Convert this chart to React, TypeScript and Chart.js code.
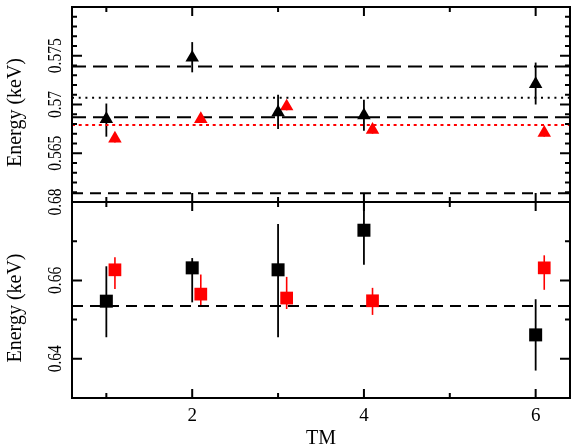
import React, { useEffect, useRef } from 'react';
import { Chart, registerables } from 'chart.js';

Chart.register(...registerables);

// ---------- data ----------
const tmBlack = [1, 2, 3, 4, 6];
const tmRed = [1.1, 2.1, 3.1, 4.1, 6.1];

// top panel (triangles)
const topBlack = [0.5685, 0.5748, 0.5692, 0.5689, 0.5721];
const topBlackLo = [0.5667, 0.5733, 0.5675, 0.5673, 0.57];
const topBlackHi = [0.5701, 0.5764, 0.571, 0.5705, 0.5743];
const topRed = [0.5665, 0.5685, 0.5698, 0.5674, 0.5671];
const topRedLo = [0.5661, 0.5681, 0.5694, 0.567, 0.5667];
const topRedHi = [0.5669, 0.5689, 0.5702, 0.5678, 0.5675];

const topDashedUpper = 0.5739;
const topDashedMiddle = 0.5687;
const topDashedLower = 0.5609;
const topBlackDotted = 0.5707;
const topRedDotted = 0.5679;

// bottom panel (squares)
const botBlack = [0.6547, 0.6632, 0.6627, 0.6728, 0.6461];
const botBlackLo = [0.6455, 0.6544, 0.6455, 0.664, 0.637];
const botBlackHi = [0.6636, 0.6657, 0.6744, 0.6816, 0.6552];
const botRed = [0.6627, 0.6565, 0.6555, 0.6548, 0.6632];
const botRedLo = [0.6578, 0.6535, 0.6527, 0.6512, 0.6576];
const botRedHi = [0.6659, 0.6615, 0.6609, 0.6581, 0.6664];
const botDashed = 0.6535;

// axes
const xRange = [0.6, 6.4];
const topRange = [0.56, 0.58];
const botRange = [0.63, 0.68];
const xMajorTicks = [2, 4, 6];
const xMinorTicks = [1, 3, 5];
const xTickLabels = ['2', '4', '6'];
const topMajorTicks = [0.565, 0.57, 0.575];
const topMinorTicks = [
  0.561, 0.562, 0.563, 0.564, 0.566, 0.567, 0.568, 0.569, 0.571, 0.572, 0.573, 0.574, 0.576,
  0.577, 0.578, 0.579,
];
const topTickLabels = ['0.565', '0.57', '0.575'];
const botMajorTicks = [0.64, 0.66];
const botMinorTicks = [0.65, 0.67];
const botLabelTicks = [0.64, 0.66, 0.68];
const botTickLabels = ['0.64', '0.66', '0.68'];
const yTitle = 'Energy (keV)';
const xTitle = 'TM';

const SERIF = '"Liberation Serif", "Times New Roman", serif';

type ErrSet = { x: number[]; lo: number[]; hi: number[]; color: string; width: number };

type Panel = {
  name: string;
  padTop: number;
  xHeight: number;
  yMin: number;
  yMax: number;
  yMajor: number[];
  yMinor: number[];
  yLabelVals: number[];
  yLabels: string[];
  showX: boolean;
  errors: ErrSet[];
  datasets: any[];
};

const hline = (y: number, color: string, dash: number[], order = 5) => ({
  type: 'line',
  data: [
    { x: xRange[0], y },
    { x: xRange[1], y },
  ],
  showLine: true,
  borderColor: color,
  borderWidth: 2,
  borderDash: dash,
  pointRadius: 0,
  order,
});

const markers = (xs: number[], ys: number[], color: string, style: string, radius: number) => ({
  type: 'scatter',
  data: xs.map((x, i) => ({ x, y: ys[i] })),
  pointStyle: style,
  pointRadius: radius,
  pointBackgroundColor: color,
  pointBorderWidth: 0,
  backgroundColor: color,
  borderWidth: 0,
  order: 0,
});

const panelPlugin = (p: Panel) => ({
  id: 'panel_' + p.name,
  beforeDatasetsDraw(chart: any) {
    const { ctx, chartArea: a, scales } = chart;
    const xs = scales.x;
    const ys = scales.y;
    ctx.save();
    ctx.beginPath();
    ctx.rect(a.left, a.top, a.right - a.left, a.bottom - a.top);
    ctx.clip();
    p.errors.forEach((e) => {
      ctx.strokeStyle = e.color;
      ctx.lineWidth = e.width;
      e.x.forEach((xv, i) => {
        const px = xs.getPixelForValue(xv);
        ctx.beginPath();
        ctx.moveTo(px, ys.getPixelForValue(e.lo[i]));
        ctx.lineTo(px, ys.getPixelForValue(e.hi[i]));
        ctx.stroke();
      });
    });
    ctx.restore();
  },
  afterDraw(chart: any) {
    const { ctx, chartArea: a, scales } = chart;
    const xs = scales.x;
    const ys = scales.y;
    ctx.save();
    ctx.strokeStyle = '#000';
    ctx.fillStyle = '#000';
    // frame
    ctx.lineWidth = 2;
    ctx.strokeRect(a.left, a.top, a.right - a.left, a.bottom - a.top);
    // x ticks
    ctx.lineWidth = 2;
    const xt = (vals: number[], len: number) =>
      vals.forEach((v) => {
        const px = xs.getPixelForValue(v);
        ctx.beginPath();
        ctx.moveTo(px, a.top);
        ctx.lineTo(px, a.top + len);
        ctx.moveTo(px, a.bottom);
        ctx.lineTo(px, a.bottom - len);
        ctx.stroke();
      });
    xt(xMajorTicks, 9);
    xt(xMinorTicks, 5);
    const yt = (vals: number[], len: number) =>
      vals.forEach((v) => {
        const py = ys.getPixelForValue(v);
        ctx.beginPath();
        ctx.moveTo(a.left, py);
        ctx.lineTo(a.left + len, py);
        ctx.moveTo(a.right, py);
        ctx.lineTo(a.right - len, py);
        ctx.stroke();
      });
    yt(p.yMajor, 10);
    yt(p.yMinor, 5);
    // y tick labels (rotated)
    ctx.textAlign = 'center';
    ctx.textBaseline = 'alphabetic';
    p.yLabelVals.forEach((v, i) => {
      const py = ys.getPixelForValue(v);
      ctx.save();
      ctx.translate(a.left - 11, py);
      ctx.rotate(-Math.PI / 2);
      ctx.scale(0.86, 1);
      ctx.font = `18px ${SERIF}`;
      ctx.fillText(p.yLabels[i], 0, 0);
      ctx.restore();
    });
    // y title
    ctx.save();
    ctx.translate(21, (a.top + a.bottom) / 2 + 8);
    ctx.rotate(-Math.PI / 2);
    ctx.font = `20px ${SERIF}`;
    ctx.fillText(yTitle, 0, 0);
    ctx.restore();
    if (p.showX) {
      ctx.font = `19px ${SERIF}`;
      xMajorTicks.forEach((v, i) => {
        ctx.fillText(xTickLabels[i], xs.getPixelForValue(v), a.bottom + 23);
      });
      ctx.font = `20px ${SERIF}`;
      ctx.fillText(xTitle, (a.left + a.right) / 2, a.bottom + 46);
    }
    ctx.restore();
  },
});

const topPanel: Panel = {
  name: 'top',
  padTop: 7,
  xHeight: 246,
  yMin: topRange[0],
  yMax: topRange[1],
  yMajor: topMajorTicks,
  yMinor: topMinorTicks,
  yLabelVals: topMajorTicks,
  yLabels: topTickLabels,
  showX: false,
  errors: [
    { x: tmBlack, lo: topBlackLo, hi: topBlackHi, color: '#000', width: 1.8 },
    { x: tmRed, lo: topRedLo, hi: topRedHi, color: '#ff0000', width: 1.6 },
  ],
  datasets: [
    markers(tmBlack, topBlack, '#000', 'triangle', 7.8),
    markers(tmRed, topRed, '#ff0000', 'triangle', 7.8),
    hline(topDashedUpper, '#000', [14, 7]),
    hline(topDashedMiddle, '#000', [14, 7]),
    hline(topDashedLower, '#000', [11, 7]),
    hline(topBlackDotted, '#000', [2, 4.7]),
    hline(topRedDotted, '#ff0000', [3, 3.7]),
  ],
};

const botPanel: Panel = {
  name: 'bottom',
  padTop: 202,
  xHeight: 50,
  yMin: botRange[0],
  yMax: botRange[1],
  yMajor: botMajorTicks,
  yMinor: botMinorTicks,
  yLabelVals: botLabelTicks,
  yLabels: botTickLabels,
  showX: true,
  errors: [
    { x: tmBlack, lo: botBlackLo, hi: botBlackHi, color: '#000', width: 1.8 },
    { x: tmRed, lo: botRedLo, hi: botRedHi, color: '#ff0000', width: 1.6 },
  ],
  datasets: [
    markers(tmBlack, botBlack, '#000', 'rect', 9.2),
    markers(tmRed, botRed, '#ff0000', 'rect', 9),
    hline(botDashed, '#000', [11, 7]),
  ],
};

function build(canvas: HTMLCanvasElement, p: Panel) {
  return new Chart(canvas, {
    type: 'scatter',
    data: { datasets: p.datasets as any },
    options: {
      animation: false,
      responsive: false,
      maintainAspectRatio: false,
      layout: { autoPadding: false, padding: { top: p.padTop, right: 1, left: 0, bottom: 0 } },
      plugins: { legend: { display: false }, tooltip: { enabled: false } },
      scales: {
        x: {
          type: 'linear',
          min: xRange[0],
          max: xRange[1],
          ticks: { display: false },
          grid: { display: false },
          border: { display: false },
          afterFit: (s: any) => {
            s.height = p.xHeight;
          },
        },
        y: {
          type: 'linear',
          min: p.yMin,
          max: p.yMax,
          ticks: { display: false },
          grid: { display: false },
          border: { display: false },
          afterFit: (s: any) => {
            s.width = 72;
          },
        },
      },
    } as any,
    plugins: [panelPlugin(p) as any],
  });
}

export default function App() {
  const topRef = useRef<HTMLCanvasElement>(null);
  const botRef = useRef<HTMLCanvasElement>(null);
  useEffect(() => {
    const c1 = build(botRef.current!, botPanel);
    const c2 = build(topRef.current!, topPanel);
    return () => {
      c1.destroy();
      c2.destroy();
    };
  }, []);
  const cs: React.CSSProperties = { position: 'absolute', left: 0, top: 0, width: 571, height: 448 };
  return (
    <div style={{ position: 'absolute', left: 0, top: 0, width: 571, height: 448, background: '#fff' }}>
      <canvas ref={botRef} width={571} height={448} style={cs} />
      <canvas ref={topRef} width={571} height={448} style={cs} />
    </div>
  );
}
